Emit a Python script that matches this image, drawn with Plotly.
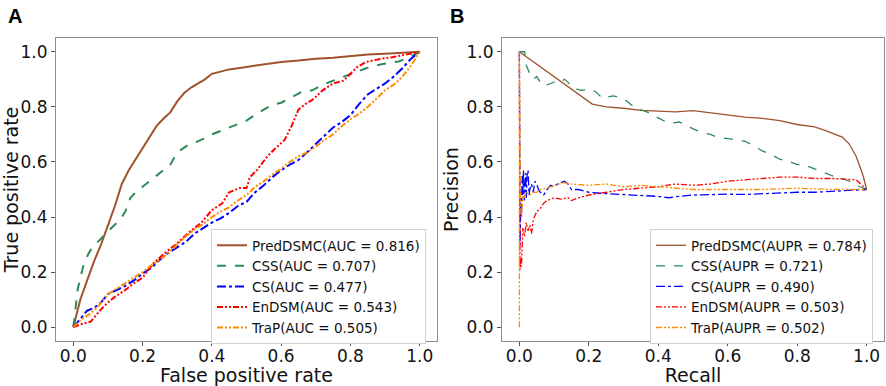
import plotly.graph_objects as go

# ---------------- Panel A : ROC ----------------
roc_pred_x = [0, 0.01, 0.02, 0.04, 0.06, 0.08, 0.10, 0.12, 0.14, 0.16, 0.18, 0.20, 0.22, 0.24, 0.26, 0.28,
              0.30, 0.32, 0.34, 0.36, 0.38, 0.40, 0.45, 0.50, 0.55, 0.60, 0.65, 0.70, 0.75, 0.80, 0.85, 0.90, 0.95, 1.0]
roc_pred_y = [0, 0.05, 0.10, 0.17, 0.24, 0.30, 0.37, 0.44, 0.52, 0.57, 0.61, 0.65, 0.69, 0.73, 0.757, 0.78,
              0.82, 0.85, 0.87, 0.884, 0.90, 0.92, 0.936, 0.945, 0.954, 0.963, 0.968, 0.975, 0.978, 0.985, 0.99, 0.993, 0.996, 1.0]

roc_css_x = [0, 0.005, 0.013, 0.03, 0.045, 0.055, 0.07, 0.09, 0.11, 0.135, 0.15, 0.165, 0.18, 0.2, 0.23, 0.25, 0.28,
             0.3, 0.33, 0.36, 0.4, 0.43, 0.46, 0.5, 0.53, 0.57, 0.6, 0.63, 0.66, 0.69, 0.72, 0.75, 0.8, 0.845, 0.89, 0.94, 0.97, 1.0]
roc_css_y = [0, 0.06, 0.14, 0.23, 0.27, 0.29, 0.31, 0.335, 0.36, 0.39, 0.42, 0.47, 0.49, 0.51, 0.54, 0.56, 0.59,
             0.635, 0.66, 0.675, 0.70, 0.715, 0.73, 0.75, 0.775, 0.805, 0.815, 0.835, 0.855, 0.86, 0.88, 0.895, 0.92, 0.94, 0.955, 0.965, 0.98, 1.0]

roc_cs_x = [0, 0.02, 0.04, 0.06, 0.08, 0.1, 0.125, 0.15, 0.175, 0.2, 0.225, 0.25, 0.275, 0.3, 0.325, 0.35, 0.375, 0.4,
            0.425, 0.45, 0.475, 0.5, 0.525, 0.55, 0.575, 0.6, 0.625, 0.65, 0.675, 0.7, 0.725, 0.75, 0.775, 0.8,
            0.825, 0.85, 0.875, 0.9, 0.925, 0.95, 0.975, 1.0]
roc_cs_y = [0, 0.03, 0.06, 0.07, 0.09, 0.12, 0.135, 0.15, 0.17, 0.195, 0.215, 0.245, 0.27, 0.29, 0.31, 0.34, 0.36, 0.38,
            0.395, 0.415, 0.44, 0.455, 0.49, 0.515, 0.545, 0.57, 0.59, 0.607, 0.635, 0.665, 0.695, 0.725, 0.745, 0.77,
            0.81, 0.845, 0.865, 0.885, 0.91, 0.94, 0.975, 1.0]

roc_en_x = [0, 0.02, 0.05, 0.08, 0.1, 0.12, 0.15, 0.175, 0.2, 0.23, 0.26, 0.3, 0.33, 0.37, 0.4, 0.43, 0.45, 0.48, 0.5,
            0.51, 0.53, 0.56, 0.58, 0.61, 0.63, 0.65, 0.67, 0.69, 0.72, 0.75, 0.78, 0.8, 0.82, 0.845, 0.87, 0.89, 0.92, 0.94, 0.97, 1.0]
roc_en_y = [0, 0.01, 0.02, 0.065, 0.09, 0.11, 0.135, 0.16, 0.18, 0.23, 0.265, 0.305, 0.34, 0.38, 0.425, 0.45, 0.49, 0.505, 0.505,
            0.545, 0.57, 0.62, 0.645, 0.68, 0.73, 0.79, 0.81, 0.825, 0.86, 0.885, 0.895, 0.92, 0.945, 0.963, 0.97, 0.975, 0.98, 0.985, 0.99, 1.0]

roc_trap_x = [0, 0.025, 0.05, 0.075, 0.1, 0.125, 0.15, 0.175, 0.2, 0.225, 0.25, 0.275, 0.3, 0.325, 0.35, 0.375, 0.4,
              0.425, 0.45, 0.475, 0.5, 0.525, 0.55, 0.575, 0.6, 0.625, 0.65, 0.675, 0.7, 0.725, 0.75, 0.775, 0.8,
              0.825, 0.85, 0.875, 0.9, 0.925, 0.95, 0.975, 1.0]
roc_trap_y = [0, 0.03, 0.05, 0.08, 0.12, 0.14, 0.16, 0.18, 0.2, 0.225, 0.245, 0.27, 0.3, 0.33, 0.355, 0.375, 0.4,
              0.42, 0.435, 0.46, 0.48, 0.51, 0.53, 0.555, 0.575, 0.6, 0.62, 0.635, 0.655, 0.68, 0.7, 0.73, 0.755,
              0.775, 0.8, 0.83, 0.86, 0.88, 0.91, 0.95, 1.0]

# ---------------- Panel B : PR ----------------
pr_pred_x = [0, 0.21, 0.25, 0.3, 0.35, 0.4, 0.45, 0.5, 0.55, 0.6, 0.65, 0.7, 0.75, 0.8, 0.85, 0.88, 0.91, 0.93,
             0.95, 0.97, 0.99, 1.0]
pr_pred_y = [1.0, 0.81, 0.80, 0.795, 0.787, 0.784, 0.782, 0.786, 0.778, 0.772, 0.763, 0.758, 0.75, 0.736, 0.727,
             0.715, 0.70, 0.69, 0.665, 0.62, 0.55, 0.5]

pr_css_x = [0, 0.015, 0.02, 0.03, 0.04, 0.05, 0.06, 0.07, 0.08, 0.09, 0.1, 0.11, 0.12, 0.13, 0.14, 0.15, 0.16, 0.18,
            0.2, 0.22, 0.24, 0.25, 0.27, 0.29, 0.31, 0.33, 0.35, 0.37, 0.4, 0.43, 0.46, 0.48, 0.5, 0.53, 0.55, 0.57,
            0.6, 0.63, 0.65, 0.68, 0.7, 0.72, 0.75, 0.78, 0.8, 0.82, 0.85, 0.88, 0.9, 0.93, 0.95, 0.98, 1.0]
pr_css_y = [1.0, 1.0, 0.95, 0.92, 0.90, 0.91, 0.89, 0.895, 0.88, 0.885, 0.89, 0.895, 0.89, 0.90, 0.89, 0.87, 0.865, 0.86,
            0.865, 0.855, 0.83, 0.835, 0.84, 0.835, 0.82, 0.80, 0.79, 0.78, 0.76, 0.74, 0.745, 0.735, 0.72, 0.705, 0.70,
            0.69, 0.685, 0.68, 0.675, 0.655, 0.64, 0.63, 0.61, 0.60, 0.59, 0.59, 0.575, 0.56, 0.55, 0.54, 0.53, 0.51, 0.5]

pr_cs_x = [0, 0.002, 0.004, 0.006, 0.008, 0.01, 0.012, 0.014, 0.016, 0.018, 0.02, 0.022, 0.025, 0.028, 0.03, 0.035,
           0.04, 0.045, 0.05, 0.055, 0.06, 0.07, 0.08, 0.09, 0.1, 0.11, 0.12, 0.13, 0.14, 0.15, 0.17, 0.2, 0.25,
           0.3, 0.35, 0.4, 0.43, 0.45, 0.5, 0.55, 0.6, 0.65, 0.7, 0.75, 0.8, 0.85, 0.9, 0.95, 1.0]
pr_cs_y = [1.0, 0.30, 0.45, 0.40, 0.55, 0.48, 0.57, 0.46, 0.50, 0.56, 0.47, 0.55, 0.57, 0.48, 0.50, 0.52, 0.49,
           0.53, 0.52, 0.50, 0.49, 0.48, 0.50, 0.515, 0.51, 0.52, 0.525, 0.53, 0.52, 0.50, 0.50, 0.49, 0.485,
           0.482, 0.477, 0.475, 0.47, 0.474, 0.48, 0.482, 0.483, 0.482, 0.485, 0.487, 0.49, 0.49, 0.493, 0.495, 0.5]

pr_en_x = [0, 0.002, 0.004, 0.006, 0.008, 0.01, 0.015, 0.02, 0.025, 0.03, 0.035, 0.04, 0.05, 0.06, 0.07, 0.08, 0.09,
           0.1, 0.12, 0.14, 0.15, 0.17, 0.2, 0.25, 0.3, 0.35, 0.4, 0.45, 0.5, 0.55, 0.6, 0.65, 0.7, 0.75, 0.8,
           0.85, 0.9, 0.95, 0.97, 1.0]
pr_en_y = [1.0, 0.21, 0.25, 0.22, 0.30, 0.36, 0.33, 0.38, 0.35, 0.37, 0.34, 0.39, 0.42, 0.43, 0.45, 0.46, 0.465,
           0.47, 0.465, 0.47, 0.46, 0.47, 0.48, 0.49, 0.50, 0.505, 0.51, 0.52, 0.515, 0.52, 0.53, 0.535, 0.54, 0.545, 0.545,
           0.54, 0.54, 0.538, 0.535, 0.5]

pr_trap_x = [0, 0, 0.003, 0.006, 0.01, 0.015, 0.02, 0.03, 0.04, 0.05, 0.06, 0.08, 0.1, 0.12, 0.13, 0.15, 0.2, 0.25,
             0.3, 0.35, 0.4, 0.45, 0.5, 0.6, 0.7, 0.8, 0.9, 1.0]
pr_trap_y = [0.0, 1.0, 0.45, 0.40, 0.48, 0.47, 0.49, 0.48, 0.49, 0.49, 0.50, 0.505, 0.515, 0.52, 0.525, 0.52, 0.515,
             0.52, 0.51, 0.515, 0.51, 0.505, 0.50, 0.50, 0.50, 0.505, 0.50, 0.50]

roc_names = ["PredDSMC(AUC = 0.816)", "CSS(AUC = 0.707)", "CS(AUC = 0.477)", "EnDSM(AUC = 0.543)", "TraP(AUC = 0.505)"]
pr_names = ["PredDSMC(AUPR = 0.784)", "CSS(AUPR = 0.721)", "CS(AUPR = 0.490)", "EnDSM(AUPR = 0.503)", "TraP(AUPR = 0.502)"]
tick_vals = [0.0, 0.2, 0.4, 0.6, 0.8, 1.0]
tick_text = ["0.0", "0.2", "0.4", "0.6", "0.8", "1.0"]

colors = ["#A0522D", "#2E8B57", "#0000FF", "#FF0000", "#FF8C00"]
dashes = ["solid", "dash", "dashdot", "6px,2px,2px,2px,2px,2px", "6px,2px,2px,2px,2px,2px"]

FONT = "DejaVu Sans"
fig = go.Figure()

roc_data = [(roc_pred_x, roc_pred_y), (roc_css_x, roc_css_y), (roc_cs_x, roc_cs_y),
            (roc_en_x, roc_en_y), (roc_trap_x, roc_trap_y)]
pr_data = [(pr_pred_x, pr_pred_y), (pr_css_x, pr_css_y), (pr_cs_x, pr_cs_y),
           (pr_en_x, pr_en_y), (pr_trap_x, pr_trap_y)]

for i, (x, y) in enumerate(roc_data):
    fig.add_trace(go.Scatter(x=x, y=y, mode="lines", name=roc_names[i], legend="legend",
                             line=dict(color=colors[i], width=2, dash=dashes[i]),
                             xaxis="x", yaxis="y"))
for i, (x, y) in enumerate(pr_data):
    fig.add_trace(go.Scatter(x=x, y=y, mode="lines", name=pr_names[i], legend="legend2",
                             line=dict(color=colors[i], width=1.3, dash=dashes[i]),
                             xaxis="x2", yaxis="y2"))

axis_common = dict(range=[-0.05, 1.05], tickvals=tick_vals, ticktext=tick_text, showgrid=False, zeroline=False,
                   showline=True, linecolor="#8c8c8c", linewidth=1, mirror=True, ticks="outside", ticklen=4,
                   tickcolor="#555", automargin=False, tickfont=dict(family=FONT, size=17, color="#111"),
                   title_font=dict(family=FONT, size=19, color="#111"))

ydom = [1 - 341 / 386, 1 - 38 / 386]
fig.update_layout(
    width=886, height=386, margin=dict(l=0, r=0, t=0, b=0),
    paper_bgcolor="white", plot_bgcolor="white",
    xaxis=dict(domain=[56 / 886, 437 / 886], anchor="y", ticklabelstandoff=-4,
               title=dict(text="False positive rate", standoff=2), **axis_common),
    yaxis=dict(domain=ydom, anchor="x", title=dict(text="True positive rate", standoff=2), **axis_common),
    xaxis2=dict(domain=[502 / 886, 884 / 886], anchor="y2", ticklabelstandoff=-4,
                title=dict(text="Recall", standoff=2), **axis_common),
    yaxis2=dict(domain=ydom, anchor="x2", title=dict(text="Precision", standoff=2), **axis_common),
    legend=dict(x=211 / 886, y=1 - 229 / 386, xanchor="left", yanchor="top", bgcolor="white",
                bordercolor="#d0d0d0", borderwidth=1, itemwidth=30,
                font=dict(family=FONT, size=13.5, color="#111")),
    legend2=dict(x=650 / 886, y=1 - 229 / 386, xanchor="left", yanchor="top", bgcolor="white",
                 bordercolor="#d0d0d0", borderwidth=1, itemwidth=30,
                 font=dict(family=FONT, size=13.5, color="#111")),
    annotations=[
        dict(text="<b>A</b>", x=6 / 886, y=1 - 3 / 386, xref="paper", yref="paper", xanchor="left", yanchor="top",
             showarrow=False, font=dict(family="Liberation Sans", size=20, color="black")),
        dict(text="<b>B</b>", x=448 / 886, y=1 - 3 / 386, xref="paper", yref="paper", xanchor="left", yanchor="top",
             showarrow=False, font=dict(family="Liberation Sans", size=20, color="black")),
    ],
)

fig.write_html("out.html", config={"displayModeBar": False},
               post_script="document.body.style.margin='0px';document.body.style.overflow='hidden';")
